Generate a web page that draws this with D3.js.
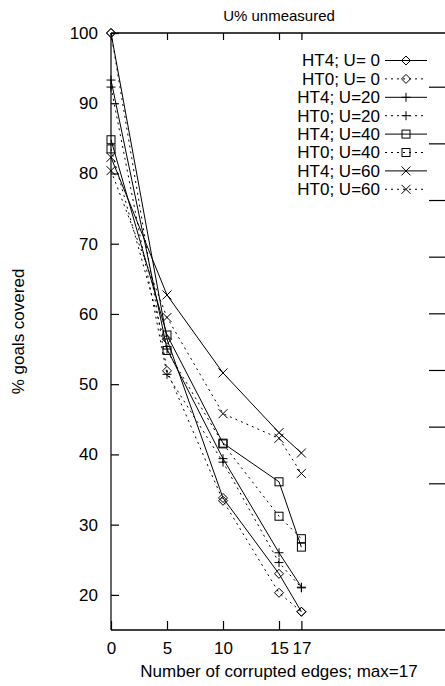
<!DOCTYPE html>
<html>
<head>
<meta charset="utf-8">
<script src="https://cdn.jsdelivr.net/npm/d3@7"></script>
<style>
  body { margin: 0; background: #fff; }
  text { font-family: "Liberation Sans", Arial, sans-serif; fill: #000; }
</style>
</head>
<body>
<div id="chart"></div>
<script>
// x values (number of corrupted edges)
var edges = [0, 5, 10, 15, 17];

// % goals covered, one array per series
var ht4U0  = [100, 56.4, 33.8, 23.0, 17.6];
var ht0U0  = [100, 51.9, 33.4, 20.3, 17.6];
var ht4U20 = [93.3, 55.0, 39.4, 26.0, 21.1];
var ht0U20 = [92.3, 51.4, 38.9, 24.6, 21.0];
var ht4U40 = [84.8, 57.0, 41.6, 36.1, 26.8];
var ht0U40 = [83.5, 54.8, 41.5, 31.2, 28.0];
var ht4U60 = [82.3, 62.7, 51.6, 43.1, 40.2];
var ht0U60 = [80.4, 59.5, 45.8, 42.3, 37.3];

var seriesNames = ["HT4; U= 0", "HT0; U= 0", "HT4; U=20", "HT0; U=20",
                   "HT4; U=40", "HT0; U=40", "HT4; U=60", "HT0; U=60"];
var seriesValues = [ht4U0, ht0U0, ht4U20, ht0U20, ht4U40, ht0U40, ht4U60, ht0U60];
var seriesMarker = ["diamond", "diamond", "plus", "plus", "square", "square", "cross", "cross"];

var xTicks = [0, 5, 10, 15, 17];
var yTicks = [20, 30, 40, 50, 60, 70, 80, 90, 100];
var y2Ticks = [0, 1, 2, 3, 4, 5, 6, 7];

(function () {
    var width = 445, height = 686;
    var left = 111, right = 447, top = 33, bottom = 630;
    var fontSize = 17;

    var svg = d3.select("#chart")
        .append("svg")
        .attr("width", width)
        .attr("height", height);

    var x = d3.scaleLinear().domain([0, 30]).range([left, right]);
    var y = d3.scaleLinear().domain([15, 100]).range([bottom, top]);
    // secondary right-hand scale, ticks only
    var y2 = d3.scaleLinear().domain([0, 7]).range([86.7, 483.3]);

    // axes (gnuplot style: ticks pointing inwards, mirrored)
    var bottomAxis = d3.axisBottom(x).tickValues(xTicks).tickSize(-9).tickPadding(12);
    var topAxis = d3.axisTop(x).tickValues(xTicks).tickSize(-7).tickFormat("");
    var leftAxis = d3.axisLeft(y).tickValues(yTicks).tickSize(-8).tickPadding(13);
    var rightAxis = d3.axisRight(y2).tickValues(y2Ticks).tickSize(-18).tickFormat("");

    function styleAxis(g) {
        g.selectAll("path").attr("stroke", "#000").attr("stroke-width", 1.5);
        g.selectAll("line").attr("stroke", "#000").attr("stroke-width", 1.2);
        g.selectAll("text")
            .style("font-size", fontSize + "px")
            .style("font-family", "Liberation Sans, Arial, sans-serif")
            .attr("fill", "#000");
        g.attr("font-size", null).attr("font-family", null);
    }

    svg.append("g")
        .attr("transform", "translate(0," + bottom + ")")
        .call(bottomAxis)
        .call(styleAxis)
        .call(function (g) { g.select(".domain").attr("d", "M" + left + ",0H" + right); });

    svg.append("g")
        .attr("transform", "translate(0," + top + ")")
        .call(topAxis)
        .call(styleAxis)
        .call(function (g) { g.select(".domain").attr("d", "M" + left + ",0H" + right); });

    svg.append("g")
        .attr("transform", "translate(" + left + ",0)")
        .call(leftAxis)
        .call(styleAxis)
        .call(function (g) { g.select(".domain").attr("d", "M0," + top + "V" + bottom).attr("stroke-width", 1.2); });

    svg.append("g")
        .attr("transform", "translate(" + right + ",0)")
        .call(rightAxis)
        .call(styleAxis)
        .call(function (g) { g.select(".domain").attr("d", "M0," + top + "V" + bottom); });

    // markers
    function marker(sel, type) {
        var s = 4.5;
        if (type === "diamond") {
            sel.append("path").attr("d", "M0," + (-s) + "L" + s + ",0L0," + s + "L" + (-s) + ",0Z")
                .attr("fill", "none").attr("stroke", "#000").attr("stroke-width", 1);
        } else if (type === "square") {
            sel.append("rect").attr("x", -4).attr("y", -4).attr("width", 8).attr("height", 8)
                .attr("fill", "none").attr("stroke", "#000").attr("stroke-width", 1);
        } else if (type === "plus") {
            sel.append("path").attr("d", "M" + (-s) + ",0H" + s + "M0," + (-s) + "V" + s)
                .attr("stroke", "#000").attr("stroke-width", 1);
        } else {
            sel.append("path").attr("d", "M" + (-s) + "," + (-s) + "L" + s + "," + s + "M" + (-s) + "," + s + "L" + s + "," + (-s))
                .attr("stroke", "#000").attr("stroke-width", 1);
        }
    }

    var line = d3.line()
        .x(function (d, i) { return x(edges[i]); })
        .y(function (d) { return y(d); });

    seriesValues.forEach(function (vals, k) {
        var dashed = k % 2 === 1;
        svg.append("path")
            .datum(vals)
            .attr("d", line)
            .attr("fill", "none")
            .attr("stroke", "#000")
            .attr("stroke-width", 1)
            .attr("stroke-dasharray", dashed ? "2,4" : null);

        vals.forEach(function (v, i) {
            var g = svg.append("g").attr("transform", "translate(" + x(edges[i]) + "," + y(v) + ")");
            marker(g, seriesMarker[k]);
        });
    });

    // legend
    var legend = svg.append("g");
    seriesNames.forEach(function (name, k) {
        var ly = 60.5 + k * 18.4;
        legend.append("text")
            .attr("x", 380)
            .attr("y", ly)
            .attr("dy", "0.35em")
            .attr("text-anchor", "end")
            .style("font-size", fontSize + "px")
            .text(name);
        legend.append("line")
            .attr("x1", 385).attr("x2", 427)
            .attr("y1", ly).attr("y2", ly)
            .attr("stroke", "#000")
            .attr("stroke-width", 1)
            .attr("stroke-dasharray", k % 2 === 1 ? "2,4" : null);
        marker(legend.append("g").attr("transform", "translate(406," + ly + ")"), seriesMarker[k]);
    });

    // titles
    svg.append("text")
        .attr("x", (left + right) / 2)
        .attr("y", 21)
        .attr("text-anchor", "middle")
        .style("font-size", "15px")
        .text("U% unmeasured");

    svg.append("text")
        .attr("x", (left + right) / 2)
        .attr("y", 677)
        .attr("text-anchor", "middle")
        .style("font-size", fontSize + "px")
        .text("Number of corrupted edges; max=17");

    svg.append("text")
        .attr("transform", "translate(24," + ((top + bottom) / 2) + ") rotate(-90)")
        .attr("text-anchor", "middle")
        .style("font-size", fontSize + "px")
        .text("% goals covered");
})();
</script>
</body>
</html>
